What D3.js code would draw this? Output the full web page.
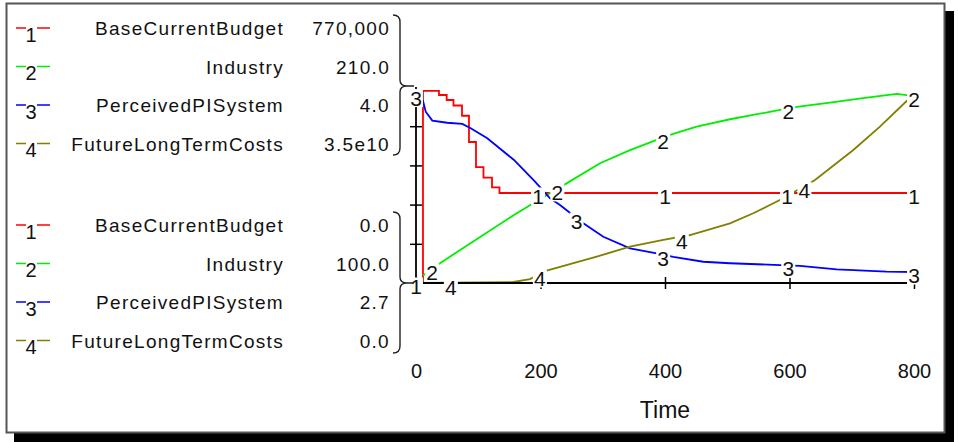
<!DOCTYPE html>
<html><head><meta charset="utf-8">
<script src="https://cdn.jsdelivr.net/npm/d3@7"></script>
<style>html,body{margin:0;padding:0;background:#fff;overflow:hidden;} svg{display:block;}</style>
</head><body>
<svg id="chart" width="958" height="442"></svg>
<script>
// ---------- data ----------
const seriesNames = ["BaseCurrentBudget", "Industry", "PerceivedPISystem", "FutureLongTermCosts"];
const seriesColors = ["#ff0000", "#00ee00", "#0000ff", "#808000"];
const scaleMaxLabels = ["770,000", "210.0", "4.0", "3.5e10"];
const scaleMinLabels = ["0.0", "100.0", "2.7", "0.0"];
const scaleMax = [770000, 210, 4.0, 3.5e10];
const scaleMin = [0, 100, 2.7, 0];
const timeTicks = [0, 200, 400, 600, 800];
const timeLabel = "Time";

const budgetTime  = [0, 11.2, 36.9, 49.3, 60.2, 73.9, 85.1, 96.4, 108.4, 122.1, 134.1, 800];
const budgetValue = [0, 755000, 738600, 718900, 697300, 657000, 554000, 455000, 414000, 375900, 353600, 353600];

const industryTime  = [11.2, 39.7, 157.4, 188.4, 212.5, 236.6, 295.6, 343.8, 386.7, 408.1, 450.9, 504.4, 541.4, 584.8, 611.6, 665.1, 718.1, 772.2, 788.2, 800];
const industryValue = [104.2, 111.4, 138.2, 144.7, 149.8, 154.8, 167.2, 174.6, 180.3, 183.1, 187.7, 191.9, 194.3, 197.1, 198.9, 201.2, 203.7, 206.1, 205.5, 204.7];

const perceivedTime  = [0, 11.2, 15.6, 26.2, 50.3, 74.4, 87.9, 114.5, 157.4, 191.2, 215.3, 231.3, 268.8, 300.9, 343.8, 386.7, 413.3, 461.5, 504.4, 584.7, 616.9, 675.8, 756.1, 800];
const perceivedValue = [3.95, 3.909, 3.836, 3.777, 3.763, 3.755, 3.726, 3.660, 3.516, 3.372, 3.262, 3.217, 3.096, 3.007, 2.930, 2.897, 2.874, 2.841, 2.831, 2.819, 2.813, 2.791, 2.775, 2.773];

const costsTime  = [0, 156.3, 183.1, 210, 290.3, 343.8, 397.3, 440.2, 504.4, 541.8, 590, 641, 702.5, 745.3, 788.2, 800];
const costsValue = [0, 0.018e10, 0.071e10, 0.223e10, 0.470e10, 0.648e10, 0.768e10, 0.857e10, 1.066e10, 1.245e10, 1.513e10, 1.839e10, 2.375e10, 2.791e10, 3.25e10, 3.36e10];

const labelTimes = [
  [0, 196, 400, 596, 800],
  [26, 227, 397, 598, 800],
  [0, 258, 397, 598, 800],
  [56, 199, 427, 624]
];

const seriesTimes = [budgetTime, industryTime, perceivedTime, costsTime];
const seriesValues = [budgetValue, industryValue, perceivedValue, costsValue];

// ---------- layout ----------
const FONT = "'Liberation Sans', Arial, sans-serif";
const svg = d3.select("#chart");
const plotTop = 87, plotBottom = 283, plotLeft = 416, plotRight = 914;
const labelDy = [3.5, 3.5, 3.5, 4.5];

const x = d3.scaleLinear().domain([0, 800]).range([plotLeft, plotRight]);
const yScales = scaleMin.map((mn, i) => d3.scaleLinear().domain([mn, scaleMax[i]]).range([plotBottom, plotTop]));

// frame + shadow
svg.append("rect").attr("x", 0).attr("y", 0).attr("width", 958).attr("height", 442).attr("fill", "#fff");
svg.append("rect").attr("x", 945).attr("y", 11).attr("width", 9).attr("height", 431).attr("fill", "#000");
svg.append("rect").attr("x", 14).attr("y", 433).attr("width", 940).attr("height", 9).attr("fill", "#000");
svg.append("rect").attr("x", 6.5).attr("y", 3.5).attr("width", 938).attr("height", 429)
  .attr("fill", "#fff").attr("stroke", "#555").attr("stroke-width", 2);

// series lines
const data = seriesTimes.map((ts, i) => ts.map((t, k) => [t, seriesValues[i][k]]));
data.forEach((d, i) => {
  const line = d3.line().x(p => x(p[0])).y(p => yScales[i](p[1]))
    .curve(i === 0 ? d3.curveStepAfter : d3.curveLinear);
  svg.append("path").attr("d", line(d)).attr("fill", "none")
    .attr("stroke", seriesColors[i]).attr("stroke-width", 1.8);
});

function valueAt(i, t) {
  const ts = seriesTimes[i], vs = seriesValues[i];
  if (t <= ts[0]) return vs[0];
  if (t >= ts[ts.length - 1]) return vs[vs.length - 1];
  const k = d3.bisectRight(ts, t) - 1;
  if (i === 0) return vs[k];
  const f = (t - ts[k]) / (ts[k + 1] - ts[k]);
  return vs[k] + f * (vs[k + 1] - vs[k]);
}

// label knockouts
const labelG = svg.append("g");
const labelPts = [];
labelTimes.forEach((lt, i) => lt.forEach(t => {
  labelPts.push({ i, cx: x(t), cy: yScales[i](valueAt(i, t)) + labelDy[i] });
}));
labelG.selectAll("rect").data(labelPts).join("rect")
  .attr("x", d => d.cx - 7).attr("y", d => d.cy - 9).attr("width", 14).attr("height", 18)
  .attr("fill", "#fff");

// axes
const xTickAxis = d3.axisBottom(x).tickValues(timeTicks).tickSizeInner(12).tickSizeOuter(0).tickFormat("");
const gxt = svg.append("g").attr("transform", `translate(0,${plotBottom - 6})`).call(xTickAxis);
gxt.select(".domain").remove();
gxt.selectAll("line").attr("stroke", "#000").attr("stroke-width", 1.5);

const xLabelAxis = d3.axisBottom(x).tickValues(timeTicks).tickSize(0).tickPadding(81).tickFormat(d3.format("d"));
const gxl = svg.append("g").attr("transform", `translate(0,${plotBottom})`).call(xLabelAxis);
gxl.select(".domain").remove();
gxl.selectAll("text").attr("font-family", FONT).attr("font-size", 20).attr("fill", "#111");

const yDiv = d3.scaleLinear().domain([0, 5]).range([plotBottom, plotTop]);
const yTickAxis = d3.axisLeft(yDiv).tickValues([1, 2, 3, 4]).tickSizeInner(12).tickSizeOuter(0).tickFormat("");
const gyt = svg.append("g").attr("transform", `translate(${plotLeft + 6},0)`).call(yTickAxis);
gyt.select(".domain").remove();
gyt.selectAll("line").attr("stroke", "#000").attr("stroke-width", 1.5);

svg.append("line").attr("x1", plotLeft - 6).attr("x2", plotRight).attr("y1", plotBottom).attr("y2", plotBottom)
  .attr("stroke", "#000").attr("stroke-width", 1.8);
svg.append("line").attr("x1", plotLeft).attr("x2", plotLeft).attr("y1", plotTop).attr("y2", plotBottom + 6)
  .attr("stroke", "#000").attr("stroke-width", 1.8);

svg.append("text").attr("x", x(400)).attr("y", 418).attr("text-anchor", "middle")
  .attr("font-family", FONT).attr("font-size", 23).attr("fill", "#111").text(timeLabel);

// line labels
labelG.raise();
labelG.selectAll("text").data(labelPts).join("text")
  .attr("x", d => d.cx).attr("y", d => d.cy + 7.5).attr("text-anchor", "middle")
  .attr("font-family", FONT).attr("font-size", 21).attr("fill", "#111")
  .text(d => d.i + 1);

// legend
const groupTop = [28, 225];
const rowStep = 38.5;
[scaleMaxLabels, scaleMinLabels].forEach((vals, g) => {
  seriesNames.forEach((name, i) => {
    const yy = groupTop[g] + i * rowStep;
    svg.append("line").attr("x1", 16).attr("x2", 26).attr("y1", yy).attr("y2", yy)
      .attr("stroke", seriesColors[i]).attr("stroke-width", 1.5);
    svg.append("line").attr("x1", 37).attr("x2", 50).attr("y1", yy).attr("y2", yy)
      .attr("stroke", seriesColors[i]).attr("stroke-width", 1.5);
    svg.append("text").attr("x", 31).attr("y", yy + 13.5).attr("text-anchor", "middle")
      .attr("font-family", FONT).attr("font-size", 20).attr("fill", "#111").text(i + 1);
    svg.append("text").attr("x", 284).attr("y", yy + 7).attr("text-anchor", "end")
      .attr("font-family", FONT).attr("font-size", 19).attr("letter-spacing", 1.3).attr("fill", "#111").text(name);
    svg.append("text").attr("x", 390).attr("y", yy + 7).attr("text-anchor", "end")
      .attr("font-family", FONT).attr("font-size", 19).attr("letter-spacing", 1.3).attr("fill", "#111").text(vals[i]);
  });
});

// braces
function brace(top, tip, bottom) {
  const x0 = 393, xv = 400, xt = plotLeft - 2;
  const p = d3.path();
  p.moveTo(x0, top); p.quadraticCurveTo(xv, top, xv, top + 7);
  p.lineTo(xv, tip - 6); p.quadraticCurveTo(xv, tip, xv + 7, tip); p.lineTo(xt, tip);
  p.moveTo(xv + 7, tip); p.quadraticCurveTo(xv, tip, xv, tip + 6);
  p.lineTo(xv, bottom - 7); p.quadraticCurveTo(xv, bottom, x0, bottom);
  svg.append("path").attr("d", p.toString()).attr("fill", "none").attr("stroke", "#222").attr("stroke-width", 1.4);
}
brace(15, plotTop - 1, 155);
brace(212, plotBottom, 353);
</script>
</body></html>
